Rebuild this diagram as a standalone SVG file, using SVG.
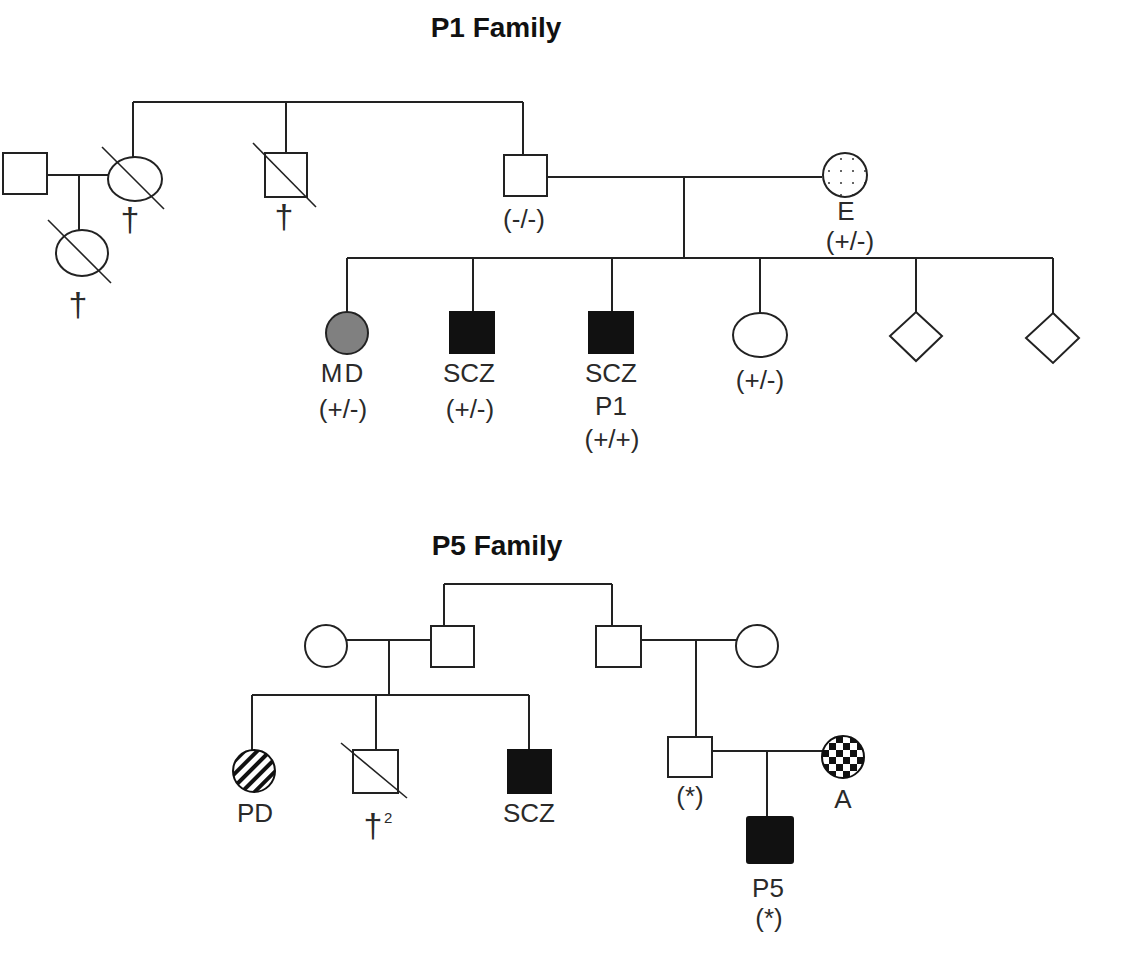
<svg xmlns="http://www.w3.org/2000/svg" width="1133" height="967" viewBox="0 0 1133 967">
<style>
.ln{stroke:#222;stroke-width:2;fill:none}
.sh{stroke:#222;stroke-width:2;fill:#fff}
.aff{fill:#111;stroke:#111;stroke-width:2}
.md{fill:#808080;stroke:#222;stroke-width:2}
.dec{stroke:#222;stroke-width:1.6}
.t{font-family:"Liberation Sans",Arial,sans-serif;font-size:26px;fill:#2a2a2a;text-anchor:middle}
.dg{font-family:"Liberation Sans",Arial,sans-serif;font-size:34px;fill:#2a2a2a;text-anchor:middle}
.ttl{font-family:"Liberation Sans",Arial,sans-serif;font-size:28px;font-weight:bold;fill:#111;text-anchor:middle}
.sup{font-family:"Liberation Sans",Arial,sans-serif;font-size:15px;fill:#2a2a2a}
</style>
<defs>
<pattern id="dots" width="12" height="12" patternUnits="userSpaceOnUse" x="823" y="153">
<rect width="12" height="12" fill="#fff"/>
<circle cx="6" cy="6" r="1" fill="#333"/>
</pattern>
<pattern id="hatch" width="9" height="9" patternUnits="userSpaceOnUse" patternTransform="rotate(-45)">
<rect width="9" height="9" fill="#fff"/>
<rect x="0" y="0" width="9" height="4" fill="#111"/>
</pattern>
<pattern id="check" width="14" height="14" patternUnits="userSpaceOnUse" x="822" y="736">
<rect width="14" height="14" fill="#fff"/>
<rect x="0" y="0" width="7" height="7" fill="#111"/>
<rect x="7" y="7" width="7" height="7" fill="#111"/>
</pattern>
</defs>
<rect width="1133" height="967" fill="#fff"/>

<text class="ttl" x="496" y="37">P1 Family</text>
<text class="ttl" x="497" y="555">P5 Family</text>

<g id="connectors">
<path class="ln" d="M47 175H108 M79 175V230 M133 102H523 M133 102V157 M286 102V153 M523 102V155 M547 177H822 M684 177V258 M347 258H1053 M347 258V312 M473 258V312 M612 258V312 M760 258V313 M916 258V312 M1053 258V313"/>
<path class="ln" d="M444 584H612 M444 584V626 M612 584V626 M347 640H431 M389 640V695 M252 695H529 M252 695V750 M376 695V750 M529 695V750 M641 640H736 M696 640V737 M712 751H822 M767 751V817"/>
</g>

<g id="p1-grandfather"><rect class="sh" x="3" y="153" width="44" height="41"/></g>
<g id="p1-grandmother"><ellipse class="sh" cx="135" cy="179" rx="27" ry="22"/><line class="dec" x1="102" y1="147" x2="164" y2="209"/><text class="dg" x="130" y="231">†</text></g>
<g id="p1-halfsister"><ellipse class="sh" cx="82" cy="253" rx="26" ry="23"/><line class="dec" x1="48" y1="220" x2="111" y2="283"/><text class="dg" x="78" y="316">†</text></g>
<g id="p1-uncle"><rect class="sh" x="265" y="153" width="42" height="44"/><line class="dec" x1="253" y1="143" x2="316" y2="207"/><text class="dg" x="284" y="228">†</text></g>
<g id="p1-father"><rect class="sh" x="504" y="155" width="43" height="41"/><text class="t" x="524" y="228">(-/-)</text></g>
<g id="p1-mother"><circle cx="845" cy="175" r="22" fill="url(#dots)" stroke="#222" stroke-width="2"/><text class="t" x="846" y="220">E</text><text class="t" x="850" y="250">(+/-)</text></g>
<g id="p1-md"><circle class="md" cx="347" cy="333" r="21"/><text class="t" x="343" y="382" letter-spacing="2">MD</text><text class="t" x="343" y="418">(+/-)</text></g>
<g id="p1-scz1"><rect class="aff" x="450" y="312" width="44" height="41"/><text class="t" x="469" y="382">SCZ</text><text class="t" x="470" y="418">(+/-)</text></g>
<g id="p1-proband"><rect class="aff" x="589" y="312" width="44" height="41"/><text class="t" x="611" y="382">SCZ</text><text class="t" x="611" y="415">P1</text><text class="t" x="612" y="448">(+/+)</text></g>
<g id="p1-sister"><ellipse class="sh" cx="760" cy="335" rx="27" ry="22"/><text class="t" x="760" y="389">(+/-)</text></g>
<g id="p1-sib5"><polygon class="sh" points="916,312 942,336 916,361 890,336"/></g>
<g id="p1-sib6"><polygon class="sh" points="1053,313 1079,338 1053,363 1026,338"/></g>

<g id="p5-grandmother"><circle class="sh" cx="326" cy="646" r="21"/></g>
<g id="p5-grandfather"><rect class="sh" x="431" y="626" width="43" height="41"/></g>
<g id="p5-granduncle"><rect class="sh" x="596" y="626" width="45" height="41"/></g>
<g id="p5-grandaunt"><circle class="sh" cx="757" cy="646" r="21"/></g>
<g id="p5-pd"><circle cx="254" cy="771" r="21" fill="url(#hatch)" stroke="#111" stroke-width="2"/><text class="t" x="255" y="822">PD</text></g>
<g id="p5-deceased"><rect class="sh" x="353" y="750" width="45" height="43"/><line class="dec" x1="341" y1="743" x2="407" y2="798"/><text class="dg" x="373" y="837">†</text><text class="sup" x="384" y="823">2</text></g>
<g id="p5-scz"><rect class="aff" x="508" y="750" width="43" height="43"/><text class="t" x="529" y="822">SCZ</text></g>
<g id="p5-father"><rect class="sh" x="668" y="737" width="44" height="40"/><text class="t" x="690" y="805">(*)</text></g>
<g id="p5-mother"><circle cx="843" cy="757" r="21" fill="url(#check)" stroke="#111" stroke-width="2"/><text class="t" x="843" y="808">A</text></g>
<g id="p5-proband"><rect class="aff" x="747" y="817" width="46" height="46" rx="2"/><text class="t" x="768" y="897">P5</text><text class="t" x="769" y="927">(*)</text></g>
</svg>
